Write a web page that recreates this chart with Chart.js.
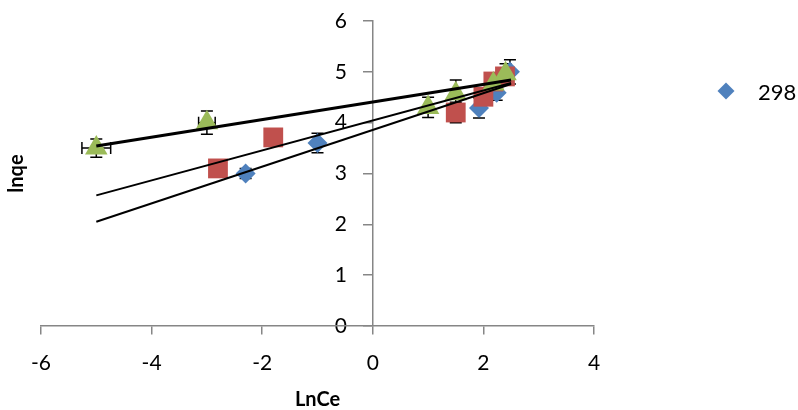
<!DOCTYPE html>
<html>
<head>
<meta charset="utf-8">
<script src="https://cdn.jsdelivr.net/npm/chart.js@4/dist/chart.umd.min.js"></script>
<style>
  html, body { margin: 0; padding: 0; background: #fff; }
  #wrap { position: relative; width: 798px; height: 410px; overflow: hidden; }
  #legend { position: absolute; left: 718px; top: 76px; font-family: Lato, sans-serif; font-size: 22px; color: #000; }
  #legend .item { display: flex; align-items: center; height: 30px; white-space: nowrap; }
  #legend .mark { width: 12px; height: 12px; transform: rotate(45deg); margin: 0 26px 0 2px; }
</style>
</head>
<body>
<div id="wrap">
  <canvas id="isoChart"></canvas>
  <div id="legend"></div>
</div>
<script>
/* ---- data ---- */
const seriesLabels = ["298", "308", "318"];
const legendShown = ["298"];

const blueX = [-2.3, -1.0, 1.92, 2.24, 2.48];
const blueY = [3.0, 3.6, 4.29, 4.59, 5.0];
const blueYErr = [0.1, 0.19, 0.2, 0.15, 0.24];

const redX = [-2.8, -1.8, 1.5, 2.0, 2.18, 2.39];
const redY = [3.1, 3.71, 4.2, 4.51, 4.81, 4.91];
const redYErr = [0.05, 0.05, 0.2, 0.1, 0.1, 0.1];

const greenX = [-5.0, -3.0, 1.0, 1.5, 2.18, 2.4];
const greenY = [3.5, 4.0, 4.3, 4.57, 4.76, 4.96];
const greenYErr = [0.18, 0.23, 0.2, 0.27, 0.15, 0.2];
const greenXErr = [0.26, 0.15, 0, 0, 0, 0];

// linear fit lines, end points
const fitX = [-5.0, 2.5];
const blueFit = [2.05, 4.76];
const redFit = [2.57, 4.78];
const greenFit = [3.54, 4.84];

const xTicks = [-6, -4, -2, 0, 2, 4];
const yTicks = [0, 1, 2, 3, 4, 5, 6];

const BLUE = "#4F81BD", RED = "#C0504D", GREEN = "#9BBB59";
const AXIS = "#868686";
const FONT = "Lato";

function pts(xs, ys) { return xs.map((x, i) => ({ x: x, y: ys[i] })); }

// error bars, drawn under the markers through the chart's scales
const errorBars = {
    id: "errorBars",
    beforeDatasetsDraw(chart) {
        const ctx = chart.ctx, sx = chart.scales.x, sy = chart.scales.y;
        ctx.save();
        ctx.strokeStyle = "#000";
        ctx.lineWidth = 1.5;
        chart.data.datasets.forEach(ds => {
            if (!ds.yErr) return;
            ds.data.forEach((p, i) => {
                const px = sx.getPixelForValue(p.x), py = sy.getPixelForValue(p.y);
                const ye = ds.yErr[i] || 0, xe = ds.xErr ? ds.xErr[i] : 0;
                ctx.beginPath();
                if (ye) {
                    const t = sy.getPixelForValue(p.y + ye), b = sy.getPixelForValue(p.y - ye);
                    ctx.moveTo(px, t); ctx.lineTo(px, b);
                    ctx.moveTo(px - 6, t); ctx.lineTo(px + 6, t);
                    ctx.moveTo(px - 6, b); ctx.lineTo(px + 6, b);
                }
                if (xe) {
                    const l = sx.getPixelForValue(p.x - xe), r = sx.getPixelForValue(p.x + xe);
                    ctx.moveTo(l, py); ctx.lineTo(r, py);
                    ctx.moveTo(l, py - 6); ctx.lineTo(l, py + 6);
                    ctx.moveTo(r, py - 6); ctx.lineTo(r, py + 6);
                }
                ctx.stroke();
            });
        });
        ctx.restore();
    }
};

// html legend built from the chart's legend items
const htmlLegend = {
    id: "htmlLegend",
    afterUpdate(chart) {
        const box = document.getElementById("legend");
        box.innerHTML = "";
        chart.options.plugins.legend.labels.generateLabels(chart)
            .filter(it => legendShown.includes(it.text))
            .forEach(it => {
                const row = document.createElement("div");
                row.className = "item";
                const mark = document.createElement("span");
                mark.className = "mark";
                mark.style.background = it.fillStyle;
                row.appendChild(mark);
                row.appendChild(document.createTextNode(it.text));
                box.appendChild(row);
            });
    }
};

function fitLine(ys, w) {
    return {
        type: "line", label: "fit", data: pts(fitX, ys),
        borderColor: "#000", borderWidth: w, pointRadius: 0,
        showLine: true, fill: false, order: 0, xAxisID: "x", yAxisID: "y"
    };
}

new Chart(document.getElementById("isoChart"), {
    type: "scatter",
    data: {
        datasets: [
            { label: seriesLabels[0], data: pts(blueX, blueY), yErr: blueYErr, xAxisID: "x", yAxisID: "y",
              pointStyle: "rectRot", radius: 10, backgroundColor: BLUE, borderColor: BLUE, borderWidth: 0, order: 3 },
            { label: seriesLabels[1], data: pts(redX, redY), yErr: redYErr, xAxisID: "x", yAxisID: "y",
              pointStyle: "rect", radius: 14, backgroundColor: RED, borderColor: RED, borderWidth: 0, order: 2 },
            { label: seriesLabels[2], data: pts(greenX, greenY), yErr: greenYErr, xErr: greenXErr, xAxisID: "x", yAxisID: "y",
              pointStyle: "triangle", radius: 13, backgroundColor: GREEN, borderColor: GREEN, borderWidth: 0, order: 1 },
            fitLine(blueFit, 2),
            fitLine(redFit, 2),
            fitLine(greenFit, 3)
        ]
    },
    options: {
        responsive: true,
        maintainAspectRatio: false,
        animation: false,
        layout: { padding: { left: 1, right: 204, top: 21, bottom: 0 } },
        plugins: {
            tooltip: { enabled: false },
            legend: { display: false }
        },
        scales: {
            y: {
                type: "linear",
                position: { x: 0 },
                min: 0, max: 6,
                afterBuildTicks: s => { s.ticks = yTicks.map(v => ({ value: v })); },
                grid: { drawOnChartArea: false, drawTicks: true, tickLength: 9, color: AXIS, lineWidth: 1.5 },
                border: { color: AXIS, width: 1.5 },
                ticks: { display: false }
            },
            yLab: {
                axis: "y",
                type: "linear",
                position: { x: -0.47 },
                min: 0, max: 6,
                afterBuildTicks: s => { s.ticks = yTicks.map(v => ({ value: v })); },
                grid: { display: false },
                border: { display: false },
                ticks: { color: "#000", font: { family: FONT, size: 21 } }
            },
            x: {
                type: "linear",
                position: { y: 0 },
                min: -6, max: 4,
                afterBuildTicks: s => { s.ticks = xTicks.map(v => ({ value: v })); },
                grid: { drawOnChartArea: false, drawTicks: true, tickLength: 8, color: AXIS, lineWidth: 1.5 },
                border: { color: AXIS, width: 1.5 },
                ticks: { color: "#000", padding: 17, font: { family: FONT, size: 21 } }
            },
            xTitle: {
                axis: "x",
                type: "linear",
                position: "bottom",
                display: true,
                grid: { display: false },
                border: { display: false },
                ticks: { display: false },
                title: { display: true, text: "LnCe", color: "#000", padding: { top: 56, bottom: 0 },
                         font: { family: FONT, size: 20, weight: "bold", lineHeight: 1 } }
            },
            yTitle: {
                axis: "y",
                type: "linear",
                position: "left",
                display: true,
                grid: { display: false },
                border: { display: false },
                ticks: { display: false },
                title: { display: true, text: "lnqe", color: "#000", padding: 4,
                         font: { family: FONT, size: 20, weight: "bold" } }
            }
        }
    },
    plugins: [errorBars, htmlLegend]
});
</script>
</body>
</html>
